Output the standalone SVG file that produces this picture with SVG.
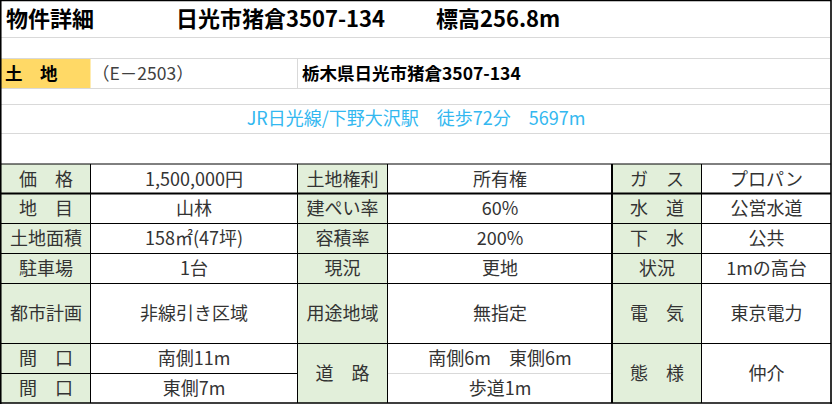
<svg xmlns="http://www.w3.org/2000/svg" width="833" height="405" viewBox="0 0 833 405">
<style>
text{font-family:"Noto Sans CJK JP","Noto Sans",sans-serif;}
.t{font-size:18px;fill:#333;text-anchor:middle;}
.title{font-size:22px;font-weight:bold;fill:#000;}
.b{font-size:17.5px;font-weight:bold;fill:#000;}
.code{font-size:17.5px;fill:#404040;}
.blue{font-size:18px;fill:#33B8F0;text-anchor:middle;}
.lbl{fill:#E2EFDA;}
.g{stroke:#D9D9D9;stroke-width:1;fill:none;}
.k{stroke:#000;stroke-width:1;fill:none;}
.k2{stroke:#000;stroke-width:2;fill:none;}
</style>
<rect x="0" y="0" width="833" height="405" fill="#fff"/>
<g id="header">
<text class="title" x="6" y="27">物件詳細</text>
<text class="title" x="176" y="27">日光市猪倉3507-134</text>
<text class="title" x="436" y="27">標高256.8m</text>
</g>
<g id="land-row">
<rect x="1" y="58.5" width="89.5" height="30" fill="#FFD966"/>
<text class="b" x="5" y="79.5" xml:space="preserve">土　地</text>
<text class="code" x="92" y="79.5">（E－2503）</text>
<text class="b" x="302" y="79.5">栃木県日光市猪倉3507-134</text>
</g>
<g id="access">
<text class="blue" x="416" y="124.5" xml:space="preserve">JR日光線/下野大沢駅　徒歩72分　5697m</text>
</g>
<g id="grid-top">
<path class="g" d="M1 37.5H830M1 58.5H830M1 88.5H830M1 104.5H830M1 133.5H830M297.5 58.5V88.5"/>
</g>
<g id="label-fills">
<rect class="lbl" x="1" y="164" width="89.5" height="239"/>
<rect class="lbl" x="297.5" y="164" width="90" height="239"/>
<rect class="lbl" x="612" y="164" width="89.5" height="239"/>
</g>
<g id="cells">
<text class="t" x="46" y="185.5" xml:space="preserve">価　格</text>
<text class="t" x="194" y="185.5">1,500,000円</text>
<text class="t" x="342.5" y="185.5">土地権利</text>
<text class="t" x="500" y="185.5">所有権</text>
<text class="t" x="657" y="185.5" xml:space="preserve">ガ　ス</text>
<text class="t" x="766.5" y="185.5">プロパン</text>

<text class="t" x="46" y="215" xml:space="preserve">地　目</text>
<text class="t" x="194" y="215">山林</text>
<text class="t" x="342.5" y="215">建ぺい率</text>
<text class="t" x="500" y="215">60%</text>
<text class="t" x="657" y="215" xml:space="preserve">水　道</text>
<text class="t" x="766.5" y="215">公営水道</text>

<text class="t" x="46" y="245">土地面積</text>
<text class="t" x="194" y="245">158㎡(47坪)</text>
<text class="t" x="342.5" y="245">容積率</text>
<text class="t" x="500" y="245">200%</text>
<text class="t" x="657" y="245" xml:space="preserve">下　水</text>
<text class="t" x="766.5" y="245">公共</text>

<text class="t" x="46" y="275">駐車場</text>
<text class="t" x="194" y="275">1台</text>
<text class="t" x="342.5" y="275">現況</text>
<text class="t" x="500" y="275">更地</text>
<text class="t" x="657" y="275">状況</text>
<text class="t" x="766.5" y="275">1mの高台</text>

<text class="t" x="46" y="320">都市計画</text>
<text class="t" x="194" y="320">非線引き区域</text>
<text class="t" x="342.5" y="320">用途地域</text>
<text class="t" x="500" y="320">無指定</text>
<text class="t" x="657" y="320" xml:space="preserve">電　気</text>
<text class="t" x="766.5" y="320">東京電力</text>

<text class="t" x="46" y="365" xml:space="preserve">間　口</text>
<text class="t" x="194" y="365">南側11m</text>
<text class="t" x="46" y="394.5" xml:space="preserve">間　口</text>
<text class="t" x="194" y="394.5">東側7m</text>
<text class="t" x="342.5" y="380" xml:space="preserve">道　路</text>
<text class="t" x="500" y="365" xml:space="preserve">南側6m　東側6m</text>
<text class="t" x="500" y="394.5">歩道1m</text>
<text class="t" x="657" y="380" xml:space="preserve">態　様</text>
<text class="t" x="766.5" y="380">仲介</text>
</g>
<g id="grid">
<path class="g" d="M387.5 373.5H612"/>
<path class="k" d="M0 164H831M0 223.5H831M0 253.5H831M0 283.5H831M0 343.5H831M0 373.5H297.5M90.5 164V403M297.5 164V403M387.5 164V403M701.5 164V403"/>
<path class="k2" d="M0 193.5H831M612 164V403"/>
</g>
<g id="border">
<path d="M0.75 0.5H831M0.75 0V404M831 0V404M0 403H832" stroke="#000" stroke-width="1.6" fill="none"/>
</g>
</svg>
